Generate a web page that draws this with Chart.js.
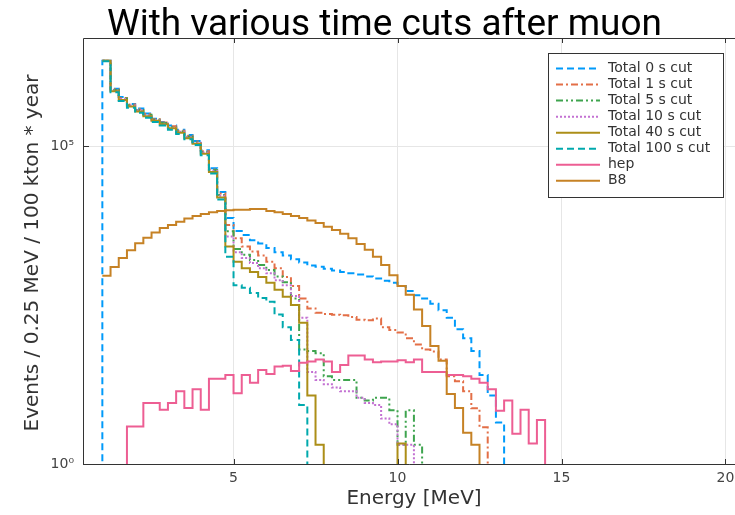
<!DOCTYPE html>
<html lang="en">
<head>
  <meta charset="UTF-8" />
  <title>With various time cuts after muon</title>
  <script src="https://cdn.jsdelivr.net/npm/chart.js@4"></script>
  <style>
    html, body { margin: 0; padding: 0; background: #fff; overflow: hidden; }
    canvas { display: block; }
  </style>
</head>
<body>
  <canvas id="grafico" width="735" height="515"></canvas>

  <script>
    // histogram bins: 0.25 MeV wide, first bin starts at 1 MeV
    const BIN = 0.25;
    const START = 1.0;
    const FLOOR = 0.5; // empty bins sit below the axis (clipped)

    const energyTicks = [5, 10, 15, 20];
    const eventTicks = [1, 1e5];

    const total0 = [2.2e6, 8.0e5, 5.9e5, 4.6e5, 3.9e5, 3.25e5, 2.7e5, 2.4e5, 2.1e5, 1.8e5, 1.5e5, 1.2e5, 8.6e4, 4.5e4, 1.9e4,
      7400, 4600, 4000, 3300, 2950, 2500, 2140, 1900, 1660, 1480, 1320, 1260, 1175, 1100, 1050, 1000, 955,
      890, 830, 760, 710, 630, 525, 450, 400, 330, 263, 200, 132, 95, 60, 25, 12, 4.5];
    const total1 = [2.2e6, 7.8e5, 5.7e5, 4.5e5, 3.8e5, 3.2e5, 2.65e5, 2.35e5, 2.05e5, 1.75e5, 1.45e5, 1.18e5, 8.3e4, 4.3e4, 1.8e4,
      5750, 3550, 2630, 2190, 1905, 1510, 1200, 870, 630, 400, 280, 240, 228, 222, 218, 205,
      186, 182, 195, 141, 128, 117, 95, 76, 63, 59, 44, 24, 20, 14, 7.5, 3.8];
    const total5 = [2.2e6, 7.6e5, 5.6e5, 4.4e5, 3.7e5, 3.1e5, 2.6e5, 2.3e5, 2.0e5, 1.7e5, 1.4e5, 1.15e5, 8.1e4, 4.2e4, 1.7e4,
      4570, 2400, 1950, 1620, 1350, 1120, 890, 725, 400, 63, 60, 55, 24, 21, 21, 21, 11, 10, 11, 11, 7, 2, 7, 2];
    const total10 = [2.2e6, 7.5e5, 5.5e5, 4.35e5, 3.65e5, 3.05e5, 2.55e5, 2.25e5, 1.95e5, 1.68e5, 1.38e5, 1.13e5, 7.9e4, 4.1e4, 1.65e4,
      3800, 2140, 1740, 1445, 1200, 1000, 776, 646, 437, 200, 28, 21, 18, 16, 14, 14, 11, 9.1, 8.5, 5.2, 4.2, 2, 2];
    const total40 = [2.2e6, 7.3e5, 5.3e5, 4.2e5, 3.5e5, 2.95e5, 2.5e5, 2.2e5, 1.9e5, 1.62e5, 1.33e5, 1.09e5, 7.6e4, 3.9e4, 1.55e4,
      2630, 1510, 1200, 1050, 870, 710, 550, 427, 316, 166, 12, 2, 0, 0, 0, 0, 0, 0, 0, 0, 0, 2.1];
    const total100 = [2.15e6, 7.0e5, 5.1e5, 4.0e5, 3.35e5, 2.8e5, 2.4e5, 2.1e5, 1.8e5, 1.55e5, 1.28e5, 1.04e5, 7.2e4, 3.7e4, 1.45e4,
      1820, 646, 589, 490, 407, 355, 224, 141, 89, 8.5];
    const hep = [0, 0, 0, 3.9, 3.9, 9.1, 9.1, 7.1, 9.1, 14, 7.6, 15, 7.1, 22, 22, 25, 13, 25, 19, 30, 26, 34, 35, 29, 39, 41,
      44, 41, 28, 36, 51, 51, 44, 40, 41, 41, 43, 40, 44, 28, 28, 28, 25, 25, 24, 22, 19, 15, 6.9, 10, 3.0, 7.1, 2.1, 4.9];
    const b8 = [912, 1259, 1738, 2291, 2951, 3631, 4365, 5129, 5754, 6457, 7244, 7943, 8511, 9120, 9550, 9772,
      10000, 10000, 10230, 10230, 9550, 9120, 8511, 7943, 7413, 6761, 6166, 5370, 4786, 4169, 3548, 2884,
      2344, 1820, 1349, 933, 631, 457, 269, 148, 72, 42, 12.6, 7.6, 3.1, 2.0];

    const series = [
      { label: 'Total 0 s cut', values: total0, rise: true, color: '#009AFA', dash: [7, 4] },
      { label: 'Total 1 s cut', values: total1, color: '#E36F47', dash: [7, 3, 2, 3] },
      { label: 'Total 5 s cut', values: total5, color: '#3EA44E', dash: [7, 3, 2, 3, 2, 3] },
      { label: 'Total 10 s cut', values: total10, color: '#C371D2', dash: [2, 2] },
      { label: 'Total 40 s cut', values: total40, color: '#AC8E18', dash: [] },
      { label: 'Total 100 s cut', values: total100, color: '#00A9AD', dash: [7, 4] },
      { label: 'hep', values: hep, color: '#ED5E93', dash: [] },
      { label: 'B8', values: b8, color: '#C68225', dash: [] }
    ];

    // bin values -> points at left bin edges, closed at the right edge
    function steps(values, rise) {
      const pts = [];
      if (rise) pts.push({ x: START, y: FLOOR });
      values.forEach((v, i) => pts.push({ x: START + i * BIN, y: v > 0 ? v : FLOOR }));
      pts.push({ x: START + values.length * BIN, y: FLOOR });
      return pts;
    }

    const SUP = '⁰¹²³⁴⁵⁶⁷⁸⁹';
    const FONT = '"DejaVu Sans", sans-serif';

    const decor = {
      id: 'decor',
      afterDraw(chart) {
        const ctx = chart.ctx;
        const a = chart.chartArea;
        const sx = chart.scales.x, sy = chart.scales.y;
        ctx.save();

        // frame (right side is outside the picture)
        ctx.strokeStyle = '#333';
        ctx.lineWidth = 1;
        ctx.setLineDash([]);
        ctx.beginPath();
        ctx.moveTo(a.right + 2, a.top + 0.5);
        ctx.lineTo(a.left + 0.5, a.top + 0.5);
        ctx.lineTo(a.left + 0.5, a.bottom + 0.5);
        ctx.lineTo(a.right + 2, a.bottom + 0.5);
        ctx.stroke();

        // inner tick marks
        ctx.beginPath();
        energyTicks.forEach(e => {
          const px = Math.round(sx.getPixelForValue(e)) + 0.5;
          ctx.moveTo(px, a.bottom); ctx.lineTo(px, a.bottom - 5);
          ctx.moveTo(px, a.top); ctx.lineTo(px, a.top + 5);
        });
        eventTicks.forEach(v => {
          const py = Math.round(sy.getPixelForValue(v)) + 0.5;
          ctx.moveTo(a.left, py); ctx.lineTo(a.left + 6, py);
        });
        ctx.stroke();

        // title
        const title = 'With various time cuts after muon';
        ctx.fillStyle = '#000';
        ctx.font = '36px Roboto';
        const size = 36 * 555 / ctx.measureText(title).width;
        ctx.font = `${size}px Roboto`;
        ctx.textAlign = 'left';
        ctx.textBaseline = 'alphabetic';
        ctx.fillText(title, 107, 35);

        // axis titles
        ctx.fillStyle = '#333';
        ctx.font = `20px ${FONT}`;
        ctx.textAlign = 'center';
        ctx.textBaseline = 'middle';
        ctx.fillText('Energy [MeV]', 414, 499);
        ctx.save();
        ctx.translate(33, 253);
        ctx.rotate(-Math.PI / 2);
        ctx.fillText('Events / 0.25 MeV / 100 kton * year', 0, 0);
        ctx.restore();

        // legend
        const lx = 548, ly = 53, lw = 175, lh = 144;
        ctx.fillStyle = '#fff';
        ctx.fillRect(lx, ly, lw, lh);
        ctx.strokeStyle = '#333';
        ctx.lineWidth = 1;
        ctx.strokeRect(lx + 0.5, ly + 0.5, lw, lh);
        ctx.font = `14px ${FONT}`;
        ctx.textAlign = 'left';
        series.forEach((s, i) => {
          const ry = 68.5 + i * 16.05;
          ctx.strokeStyle = s.color;
          ctx.lineWidth = 2;
          ctx.setLineDash(s.dash);
          ctx.beginPath();
          ctx.moveTo(556, ry);
          ctx.lineTo(600, ry);
          ctx.stroke();
          ctx.fillStyle = '#333';
          ctx.fillText(s.label, 608, ry);
        });
        ctx.restore();
      }
    };

    const ctx = document.getElementById('grafico').getContext('2d');
    new Chart(ctx, {
      type: 'line',
      data: {
        datasets: series.map((s, i) => ({
          label: s.label,
          data: steps(s.values, s.rise),
          borderColor: s.color,
          borderWidth: 2,
          borderDash: s.dash,
          stepped: 'before',
          pointRadius: 0,
          fill: false,
          order: series.length - i
        }))
      },
      options: {
        responsive: false,
        animation: false,
        layout: { padding: { top: 38, left: 0, right: 0, bottom: 0 } },
        plugins: {
          legend: { display: false },
          tooltip: { enabled: false }
        },
        scales: {
          x: {
            type: 'linear',
            min: 0.41,
            max: 20.29,
            grid: { color: '#e6e6e6', drawTicks: false },
            border: { display: false },
            ticks: {
              padding: 6,
              color: '#444',
              font: { family: FONT, size: 14 },
              callback: v => String(v)
            },
            afterBuildTicks: scale => { scale.ticks = energyTicks.map(v => ({ value: v })); },
            afterFit: scale => {
              scale.height = 51;
              scale.paddingLeft = 0;
              scale.paddingRight = 0;
            }
          },
          y: {
            type: 'logarithmic',
            min: 1,
            max: 5.01e6,
            grid: { color: '#e6e6e6', drawTicks: false },
            border: { display: false },
            ticks: {
              padding: 9,
              color: '#444',
              font: { family: FONT, size: 14 },
              callback: v => '10' + String(Math.round(Math.log10(v))).split('').map(d => SUP[+d]).join('')
            },
            afterBuildTicks: scale => { scale.ticks = eventTicks.map(v => ({ value: v })); },
            afterFit: scale => {
              scale.width = 83;
              scale.paddingTop = 0;
              scale.paddingBottom = 0;
            }
          }
        }
      },
      plugins: [decor]
    });
  </script>
</body>
</html>
